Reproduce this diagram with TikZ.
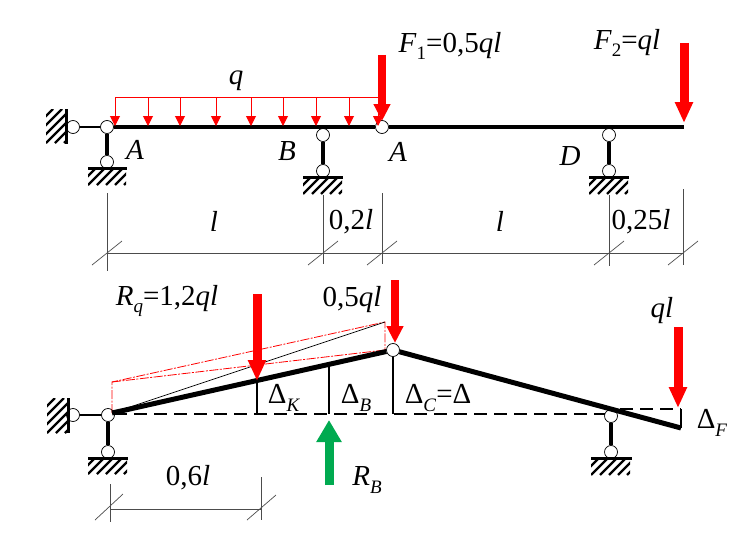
\documentclass[tikz,border=0pt]{standalone}
\usepackage{fontspec}
\setmainfont{Liberation Serif}
\usetikzlibrary{arrows.meta}
\newcommand{\hatchbox}[4]{%
  \begin{scope}
    \clip (#1,#2) rectangle (#3,#4);
    \pgfmathsetmacro{\hh}{#4-#2}
    \foreach \k in {-4,...,9} {
      \draw[line width=2.2pt] ({#1+\k*9},#4) -- ({#1+\k*9+\hh},#2);
    }
  \end{scope}}
\newcommand{\lowtxt}[1]{\raisebox{-0.26em}{\fontsize{19}{19}\selectfont #1}}
\definecolor{gcol}{RGB}{0,170,80}
\tikzset{
  hinge/.style={circle,draw=black,fill=white,line width=0.7pt,minimum size=13pt,inner sep=0pt},
  lbl/.style={font=\fontsize{29}{29}\selectfont,inner sep=0pt,text=black},
  beam/.style={line width=4pt,black},
  heavy/.style={line width=5pt,black},
  linkbar/.style={line width=3.5pt,black},
  base/.style={line width=2.6pt,black},
  dashbase/.style={line width=2.6pt,black,dash pattern=on 13pt off 7pt},
  ground/.style={line width=3pt,black},
  dimline/.style={line width=0.8pt,black!70},
  dimtick/.style={line width=0.7pt,black!70},
  loadline/.style={line width=1pt,red},
  loadarrow/.style={line width=1pt,red,-{Triangle[length=10pt,width=10pt]}},
  redthin/.style={line width=0.8pt,red,dash pattern=on 9pt off 1.5pt on 2pt off 1.5pt},
  blackthin/.style={line width=0.7pt,black},
  forceA/.style={line width=8pt,red,-{Triangle[length=17pt,width=16pt]}},
  forceB/.style={line width=9pt,red,-{Triangle[length=21pt,width=17pt]}},
  forceG/.style={line width=9pt,gcol,-{Triangle[length=22pt,width=24pt]}},
}
\begin{document}
\begin{tikzpicture}[x=1pt,y=-1pt]
\useasboundingbox (0,0) rectangle (755,543);
% ---------- upper scheme ----------
\node[hinge] (h1) at (73,127) {};
\node[hinge] (h2) at (107,127) {};
\node[hinge] (h3) at (382,127) {};
\node[hinge] (a1) at (107,162) {};
\node[hinge] (b0) at (323,135) {};
\node[hinge] (b1) at (323,171) {};
\node[hinge] (d0) at (609,135) {};
\node[hinge] (d1) at (609,171) {};
\coordinate (w1) at (66,127);
\coordinate (e1) at (684,127);
\hatchbox{46}{109}{65}{143}
\draw[ground] (66,109) -- (66,144);
\draw[base] (w1) -- (h1);
\draw[base] (h1) -- (h2);
\draw[beam] (h2) -- (h3);
\draw[beam] (h3) -- (e1);
\draw[linkbar] (h2) -- (a1);
\draw[linkbar] (b0) -- (b1);
\draw[linkbar] (d0) -- (d1);
\draw[ground] (88,168) -- (127,168);
\hatchbox{88}{169}{126}{185}
\draw[ground] (303,177) -- (343,177);
\hatchbox{303}{178}{342}{194}
\draw[ground] (589,177) -- (629,177);
\hatchbox{589}{178}{628}{194}
% distributed load
\coordinate (qs) at (115,97);
\coordinate (qe) at (378,97);
\draw[loadline] (qs) -- (qe);
\foreach \i/\x in {1/115,2/148,3/180,4/216,5/251,6/283,7/316,8/349,9/378} {
  \coordinate (qt\i) at (\x,97);
  \coordinate (qb\i) at (\x,126);
  \draw[loadarrow] (qt\i) -- (qb\i);
}
% forces
\coordinate (f1t) at (382,55);
\coordinate (f1b) at (382,121);
\draw[forceA] (f1t) -- (f1b);
\coordinate (f2t) at (684,43);
\coordinate (f2b) at (684,123);
\draw[forceB] (f2t) -- (f2b);
% labels
\node[lbl] (tq) at (236,81) {\textit{q}};
\node[lbl] (tA1) at (135,150) {\textit{A}};
\node[lbl] (tB) at (287,151) {\textit{B}};
\node[lbl] (tA2) at (398,152) {\textit{A}};
\node[lbl] (tD) at (570,156) {\textit{D}};
\node[lbl] (tF1) at (450,46) {\textit{F}\lowtxt{1}=0,5\textit{ql}};
\node[lbl] (tF2) at (627,43) {\textit{F}\lowtxt{2}=\textit{ql}};
% dimensions
\foreach \n/\x/\a/\b in {d1/107/193/271,d2/323/195/264,d3/382/193/264,d4/609/195/266,d5/683/189/265} {
  \coordinate (\n t) at (\x,\a);
  \coordinate (\n b) at (\x,\b);
  \coordinate (\n l) at ({\x-15},265);
  \coordinate (\n r) at ({\x+15},241);
  \draw[dimline] (\n t) -- (\n b);
  \draw[dimtick] (\n l) -- (\n r);
}
\coordinate (dl) at (107,253);
\coordinate (dr) at (683,253);
\draw[dimline] (dl) -- (dr);
\node[lbl] (tl1) at (214,221) {\textit{l}};
\node[lbl] (tl2) at (351,222) {0,2\textit{l}};
\node[lbl] (tl3) at (500,221) {\textit{l}};
\node[lbl] (tl4) at (641,222) {0,25\textit{l}};
% ---------- lower scheme ----------
\node[hinge] (k1) at (73,415) {};
\node[hinge] (k2) at (108,415) {};
\node[hinge] (k3) at (393,350) {};
\node[hinge] (k4) at (108,452) {};
\node[hinge] (k5) at (611,416) {};
\node[hinge] (k6) at (611,452) {};
\coordinate (w2) at (68,415);
\coordinate (tipR) at (681,428);
\coordinate (p1) at (257,381);
\coordinate (p2) at (329,366);
\coordinate (p1b) at (257,414);
\coordinate (p2b) at (329,414);
\coordinate (p3b) at (393,414);
\coordinate (dash1) at (114,414);
\coordinate (dash2) at (605,414);
\coordinate (dash3) at (620,409);
\coordinate (dash4) at (681,409);
\coordinate (r0) at (112,413);
\coordinate (r1) at (112,382);
\coordinate (r2) at (385,322);
\coordinate (r3) at (385,350);
\hatchbox{47}{398}{67}{433}
\draw[ground] (68,398) -- (68,433);
\draw[base] (w2) -- (k1);
\draw[base] (k1) -- (k2);
\draw[linkbar] (k2) -- (k4);
\draw[linkbar] (k5) -- (k6);
\draw[ground] (88,458) -- (128,458);
\hatchbox{88}{459}{127}{474}
\draw[ground] (591,458) -- (632,458);
\hatchbox{591}{459}{630}{475}
% deflected shape
\draw[dashbase] (dash1) -- (dash2);
\draw[dashbase] (dash3) -- (dash4);
\draw[line width=2.6pt] (p1) -- (p1b);
\draw[line width=2.6pt] (p2) -- (p2b);
\draw[line width=2.6pt] (k3) -- (p3b);
\draw[line width=2.6pt] (dash4) -- (tipR);
\draw[redthin] (r0) -- (r1) -- (r2) -- (r3);
\draw[redthin] (r1) -- (r3);
\draw[blackthin] (r0) -- (r2);
\draw[heavy] (r0) -- (k3);
\draw[heavy] (k3) -- (tipR);
% forces
\coordinate (g1t) at (257,294);
\coordinate (g1b) at (257,381);
\draw[forceB] (g1t) -- (g1b);
\coordinate (g2t) at (395,280);
\coordinate (g2b) at (395,343);
\draw[forceA] (g2t) -- (g2b);
\coordinate (g3t) at (678,327);
\coordinate (g3b) at (678,408);
\draw[forceB] (g3t) -- (g3b);
\coordinate (gr0) at (329,485);
\coordinate (gr1) at (329,420);
\draw[forceG] (gr0) -- (gr1);
% labels
\node[lbl] (tRq) at (167,301) {\textit{R}\lowtxt{\textit{q}}=1,2\textit{ql}};
\node[lbl] (t05) at (352,300) {0,5\textit{ql}};
\node[lbl] (tql) at (662,311) {\textit{ql}};
\node[lbl] (tdK) at (284,398) {Δ\lowtxt{\textit{K}}};
\node[lbl] (tdB) at (356,398) {Δ\lowtxt{\textit{B}}};
\node[lbl] (tdC) at (438,398) {Δ\lowtxt{\textit{C}}=Δ};
\node[lbl] (tdF) at (712,423) {Δ\lowtxt{\textit{F}}};
\node[lbl] (tRB) at (367,480) {\textit{R}\lowtxt{\textit{B}}};
\node[lbl] (t06) at (188,478) {0,6\textit{l}};
% lower dimension
\coordinate (m1t) at (110,484);
\coordinate (m1b) at (110,522);
\coordinate (m2t) at (261,477);
\coordinate (m2b) at (261,520);
\coordinate (m1l) at (95,520);
\coordinate (m1r) at (123,494);
\coordinate (m2l) at (247,520);
\coordinate (m2r) at (276,495);
\draw[dimline] (m1t) -- (m1b);
\draw[dimline] (m2t) -- (m2b);
\draw[dimtick] (m1l) -- (m1r);
\draw[dimtick] (m2l) -- (m2r);
\coordinate (ml) at (110,509);
\coordinate (mr) at (261,509);
\draw[dimline] (ml) -- (mr);
\end{tikzpicture}
\end{document}
